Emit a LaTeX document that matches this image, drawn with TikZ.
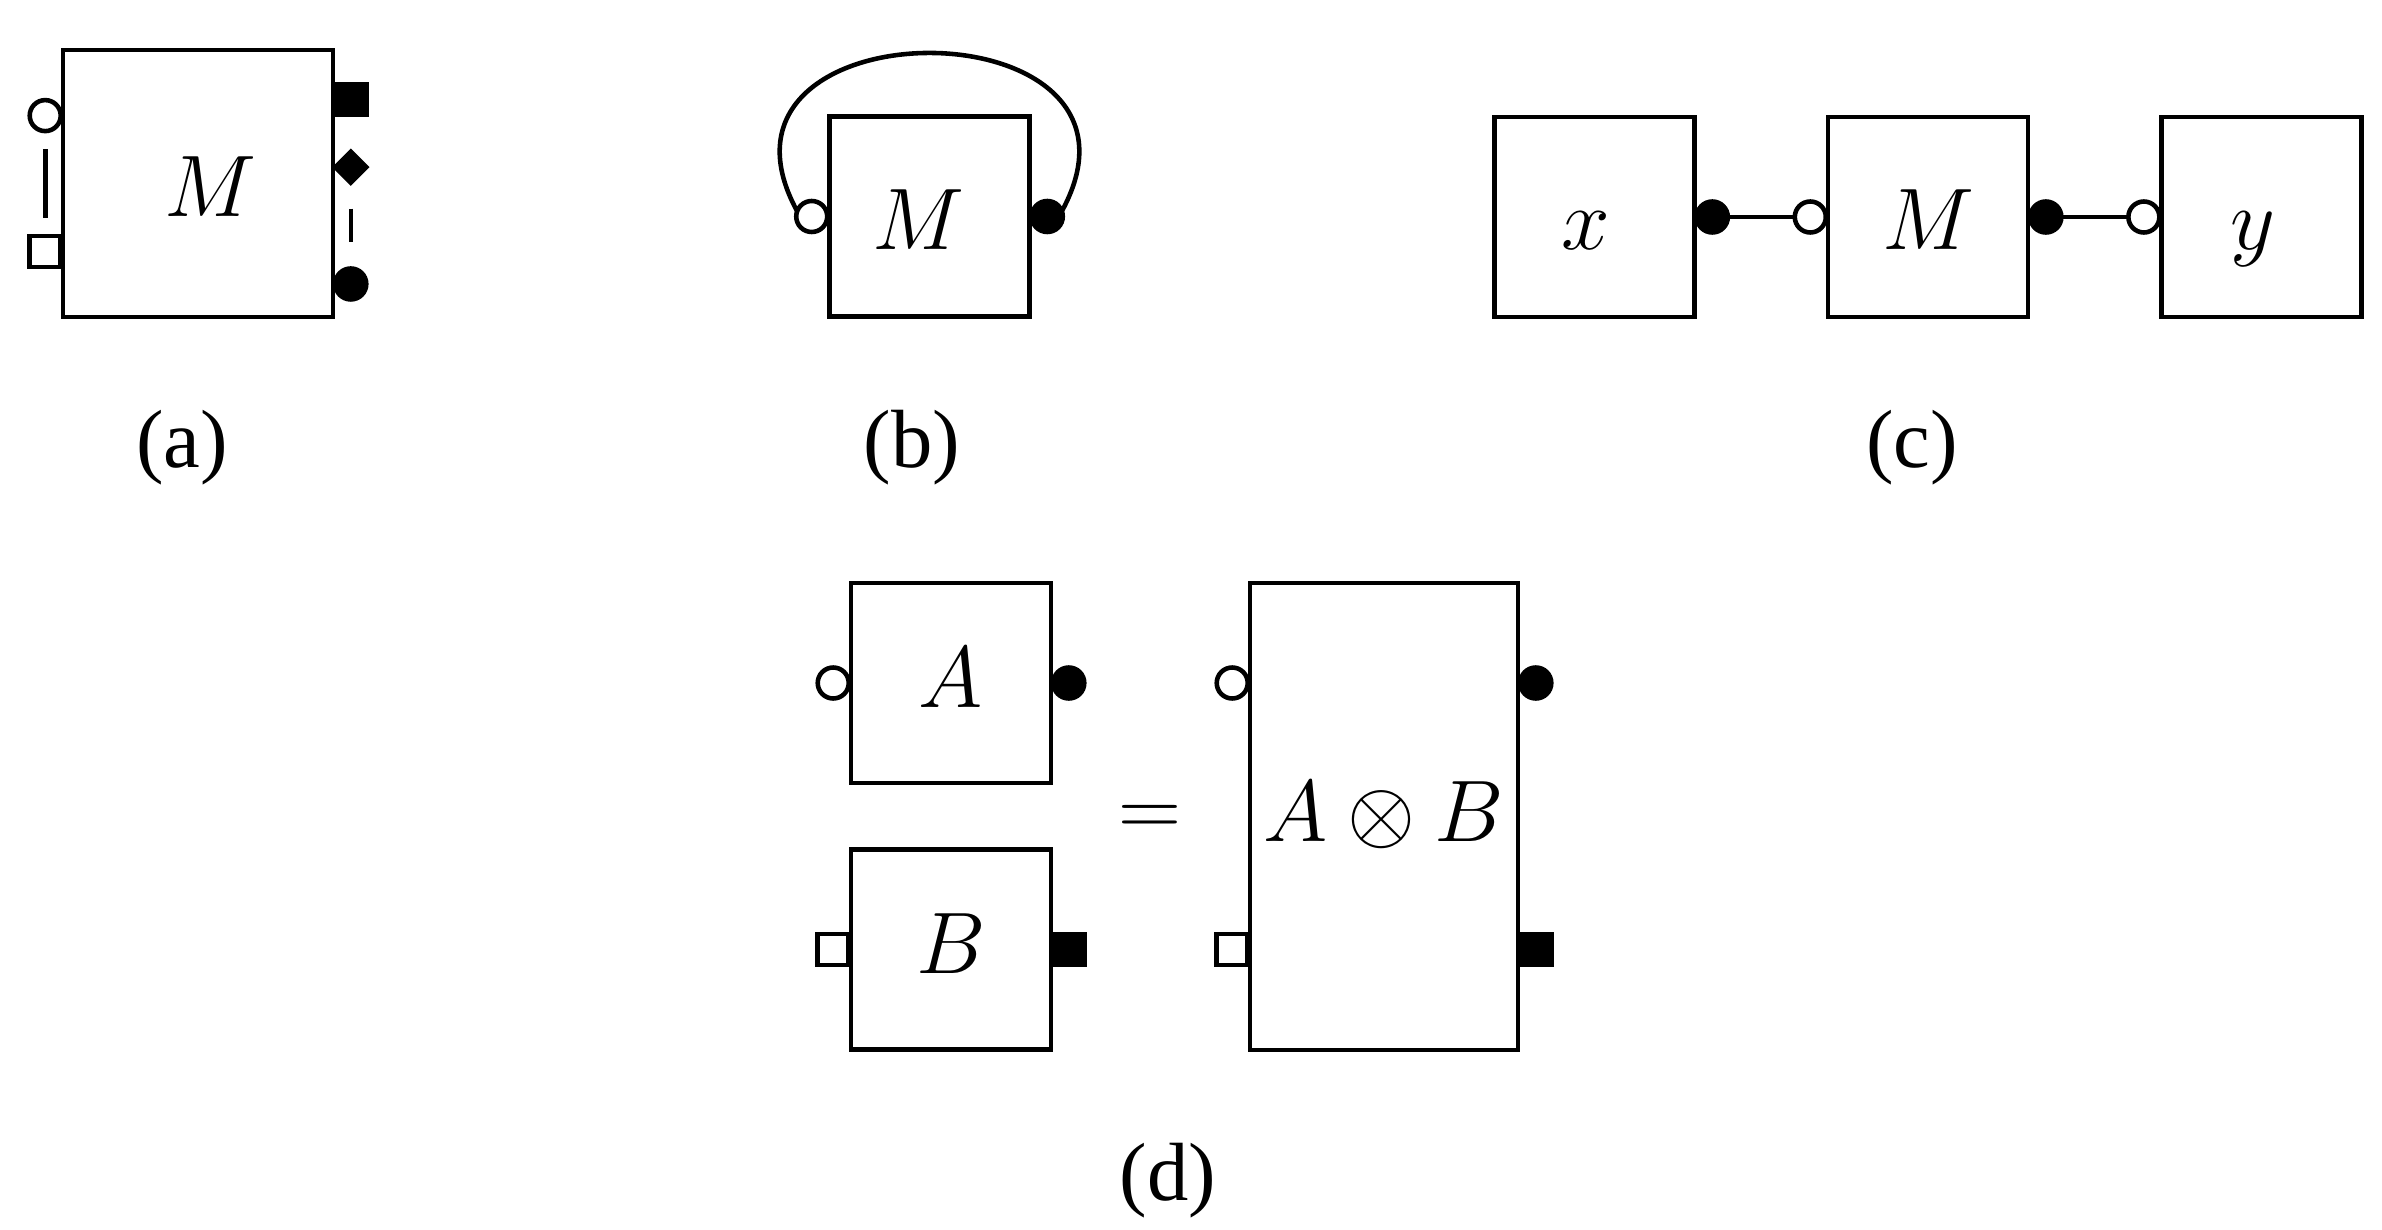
\documentclass[tikz,border=0pt]{standalone}
\usepackage{fontspec}
\setmainfont{Liberation Serif}
\usetikzlibrary{positioning, shapes.geometric, calc}

\tikzset{
    tensor/.style={draw, line width=1.3pt, inner sep=0pt, minimum width=2cm, minimum height=2cm, text height=0.66cm, text depth=0cm, font=\fontsize{23.5}{28}\selectfont}, % boxes
    inleg/.style={circle, draw, fill=white, line width=1.3pt, inner sep=0pt, outer sep=0pt, minimum size=0.31cm}, % open leg
    outleg/.style={inleg, fill=black}, % filled leg
    inbox/.style={rectangle, draw, fill=white, line width=1.3pt, inner sep=0pt, outer sep=0pt, minimum size=0.31cm},
    outbox/.style={inbox, fill=black},
    outkite/.style={diamond, draw, fill=black, line width=1.3pt, inner sep=0pt, outer sep=0pt, minimum size=0.31cm},
    caption/.style={font=\fontsize{23.5}{28}\selectfont},
    wire/.style={line width=1.3pt}
}

\begin{document}
\begin{tikzpicture}
\useasboundingbox (0,0) rectangle (23.82,12.29);

% (a) one box with grouped legs
\node[tensor, minimum width=2.7cm, minimum height=2.67cm] (ma) at (1.98,10.455) {\hspace*{0.24cm}$M$};
\node[inleg, anchor=east] (pa1) at ($(ma.north west)!0.25!(ma.south west)$) {};
\node[inbox, anchor=east] (pa2) at ($(ma.north west)!0.75!(ma.south west)$) {};
\node[outbox, anchor=west] (pa3) at ($(ma.north east)!0.19!(ma.south east)$) {};
\node[outkite, anchor=west] (pa4) at ($(ma.north east)!0.44!(ma.south east)$) {};
\node[outleg, anchor=west] (pa5) at ($(ma.north east)!0.87!(ma.south east)$) {};
\draw[wire, shorten <=0.18cm, shorten >=0.18cm] (pa1.south) -- (pa2.north);
\draw[wire, shorten <=0.26cm, shorten >=0.26cm] (pa4.south) -- (pa5.north);
\node[caption] (capa) at (1.82,7.81) {(a)};

% (b) trace
\node[tensor] (mb) at (9.295,10.125) {$M$\hspace*{0.22cm}};
\node[inleg, anchor=east] (pb1) at (mb.west) {};
\node[outleg, anchor=west] (pb2) at (mb.east) {};
\draw[wire] (pb1.160) .. controls +(-1.15,2.11) and +(1.15,2.11) .. (pb2.20);
\node[caption] (capb) at (9.12,7.81) {(b)};

% (c) contraction x -- M -- y
\node[tensor] (cx) at (15.945,10.12) {$x$\hspace*{0.18cm}};
\node[tensor, right=1.29cm of cx] (cm) {$M$};
\node[tensor, right=1.29cm of cm] (cy) {$y$\hspace*{0.18cm}};
\node[outleg, anchor=west] (pc1) at (cx.east) {};
\node[inleg, anchor=east] (pc2) at (cm.west) {};
\node[outleg, anchor=west] (pc3) at (cm.east) {};
\node[inleg, anchor=east] (pc4) at (cy.west) {};
\draw[wire] (pc1) -- (pc2);
\draw[wire] (pc3) -- (pc4);
\node[caption] (capc) at (19.12,7.81) {(c)};

% (d) tensor product
\node[tensor, text height=0.48cm] (ta) at (9.51,5.46) {$A$};
\node[tensor, text height=0.48cm, below=0.62cm of ta] (tb) {$B$};
\node[inleg, anchor=east] (pd1) at (ta.west) {};
\node[outleg, anchor=west] (pd2) at (ta.east) {};
\node[inbox, anchor=east] (pd3) at (tb.west) {};
\node[outbox, anchor=west] (pd4) at (tb.east) {};
\node[caption] (eq) at (11.5,4.08) {$=$};
\node[tensor, text height=0.5cm, minimum width=2.68cm, minimum height=4.67cm] (tab) at (13.84,4.125) {$A\otimes B$};
\node[inleg, anchor=east] (pd5) at (tab.west |- ta.west) {};
\node[outleg, anchor=west] (pd6) at (tab.east |- ta.east) {};
\node[inbox, anchor=east] (pd7) at (tab.west |- tb.west) {};
\node[outbox, anchor=west] (pd8) at (tab.east |- tb.east) {};
\node[caption] (capd) at (11.68,0.48) {(d)};

\end{tikzpicture}
\end{document}
